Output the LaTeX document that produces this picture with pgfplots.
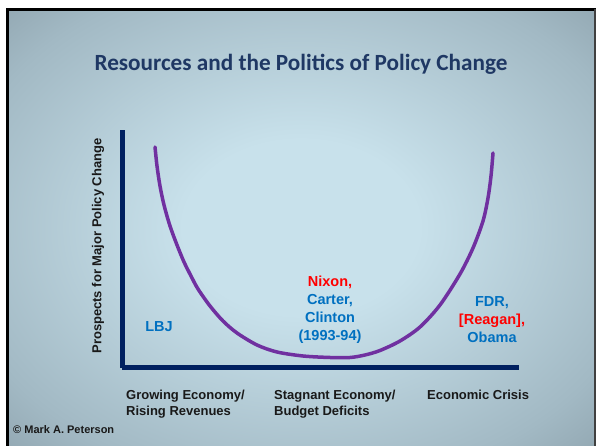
\documentclass[border=0pt]{standalone}
\usepackage{pgfplots}
\pgfplotsset{compat=1.18}
\usepackage{fontspec}
\setmainfont{Liberation Sans}
\newfontfamily\calibri{Carlito}
\definecolor{axisblue}{HTML}{002060}
\definecolor{curvepurple}{HTML}{7030A0}
\definecolor{titleblue}{HTML}{1F3864}
\definecolor{lblue}{HTML}{0070C0}
\definecolor{lred}{HTML}{FF0000}
\definecolor{bgc}{HTML}{C8E1EB}
\definecolor{bgm}{HTML}{A2B9C4}
\definecolor{bge}{HTML}{6E7F89}
\pgfdeclareradialshading{slidebg}{\pgfpoint{0bp}{0bp}}{color(0bp)=(bgc); color(10bp)=(bgc); color(30bp)=(bgm); color(50bp)=(bge)}
% curve in pixel space: x, 446 - y(pixel)
\pgfplotstableread{
x y
155 299
157 280
160 260
164 241
170 220
177 201
184 184
191 170
198 157
210 140
223 125
237 113
257 101
277 94
303 90
330 88.5
350 88.5
365 91
380 95.5
400 105
420 119
440 141
460 172
473 198
483 225
488 248
491 270
493 293
}\curvedata
\begin{document}
\begin{tikzpicture}[x=1pt,y=1pt]
\useasboundingbox (0,0) rectangle (596,446);
\fill[white] (0,0) rectangle (596,446);
\shade[shading=slidebg] (7,0) rectangle (595,437);
\draw[black, line width=2.5pt] (7.5,0) -- (7.5,436.5) -- (596,436.5);
\draw[black!75, line width=1.5pt] (595,437) -- (595,0);
\node[anchor=base, font=\calibri\bfseries\fontsize{23.2}{27}\selectfont, text=titleblue] at (301,375) {Resources and the Politics of Policy Change};
\begin{axis}[
  at={(122,78)}, anchor=south west,
  scale only axis, width=397pt, height=238pt,
  xmin=122, xmax=519, ymin=78, ymax=316,
  axis x line=bottom, axis y line=left,
  axis line style={-, line width=5pt, draw=axisblue},
  xtick=\empty, ytick=\empty,
  clip=false,
]
\addplot[curvepurple, line width=3.5pt, smooth, line cap=round] table[x=x,y=y] {\curvedata};
\end{axis}
\node[rotate=90, font=\bfseries\fontsize{13}{15}\selectfont, text=black!90] at (98,200) {Prospects for Major Policy Change};
\node[anchor=base, font=\bfseries\fontsize{14.5}{17}\selectfont, text=lblue] at (159,114) {LBJ};
\begin{scope}[every node/.style={anchor=base, font=\bfseries\fontsize{14.5}{17}\selectfont}]
\node[text=lred] at (330,159) {Nixon,};
\node[text=lblue] at (330,141.3) {Carter,};
\node[text=lblue] at (330,123.6) {Clinton};
\node[text=lblue] at (330,105.9) {(1993-94)};
\node[text=lblue] at (492,139) {FDR,};
\node[text=lred] at (492,121) {[Reagan],};
\node[text=lblue] at (492,103) {Obama};
\end{scope}
\begin{scope}[every node/.style={anchor=base west, font=\bfseries\fontsize{13}{15}\selectfont, text=black!90, inner sep=0pt}]
\node at (126,46) {Growing Economy/};
\node at (126,30) {Rising Revenues};
\node at (274,46) {Stagnant Economy/};
\node at (274,30) {Budget Deficits};
\node at (427,46) {Economic Crisis};
\node[font=\bfseries\fontsize{11}{13}\selectfont] at (13,12) {\textcopyright\ Mark A. Peterson};
\end{scope}
\end{tikzpicture}
\end{document}
